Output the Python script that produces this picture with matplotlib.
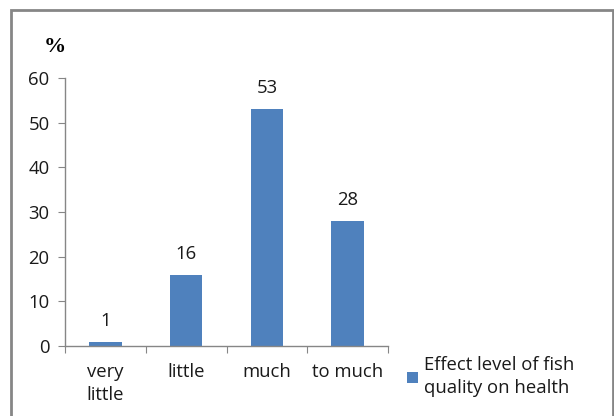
import matplotlib
matplotlib.use("Agg")
import matplotlib.pyplot as plt
from matplotlib.patches import Rectangle

categories = ["very\nlittle", "little", "much", "to much"]
values = [1, 16, 53, 28]
series_name = "Effect level of fish\nquality on health"
yticks = [0, 10, 20, 30, 40, 50, 60]

plt.rcParams['font.family'] = ['Open Sans', 'DejaVu Sans']
W, H = 614, 416
FS = 13.3
TXT = "#1a1a1a"
fig = plt.figure(figsize=(W / 100, H / 100), dpi=100)
ax = fig.add_axes([65 / W, 1 - 346 / H, (388 - 65) / W, (346 - 78) / H])

bar_color = "#4F81BD"
x = list(range(len(categories)))
bars = ax.bar(x, values, width=0.4, color=bar_color, label=series_name)
ax.set_xlim(-0.5, len(categories) - 0.5)
ax.set_ylim(0, 60)
ax.set_yticks(yticks)
ax.set_yticklabels([str(t) for t in yticks], fontsize=FS, color=TXT)

ax.set_xticks([i + 0.5 for i in range(-1, len(categories))], minor=False)
ax.set_xticklabels([])
ax.set_xticks(x, minor=True)
ax.set_xticklabels(categories, minor=True, fontsize=FS, color=TXT,
                   linespacing=1.35, va="top")
ax.tick_params(axis="x", which="minor", length=0, pad=12)
ax.tick_params(axis="x", which="major", length=5, color="#868686", direction="out")
ax.tick_params(axis="y", length=5, color="#868686", pad=6)

for s in ["top", "right"]:
    ax.spines[s].set_visible(False)
for s in ["left", "bottom"]:
    ax.spines[s].set_color("#868686")
    ax.spines[s].set_linewidth(1)

for xi, v in zip(x, values):
    ax.annotate(str(v), (xi, v), xytext=(0, 15), textcoords="offset points",
                ha="center", va="center", fontsize=FS, color=TXT)

fig.text(55 / W, 1 - 47 / H, "%", ha="center", va="center",
         fontsize=16, fontweight="bold", family="Liberation Serif")

leg = fig.legend(handles=[bars], labels=[series_name], loc="upper left",
                 bbox_to_anchor=(400 / W, 1 - 349 / H), frameon=False,
                 fontsize=FS, handlelength=0.55, handleheight=0.55,
                 handletextpad=0.35, borderaxespad=0, labelspacing=0,
                 labelcolor=TXT)
for t in leg.get_texts():
    t.set_linespacing(1.35)

fig.patches.append(Rectangle((11 / W, -0.2), (613 - 11) / W, 1 - 10 / H + 0.2,
                             transform=fig.transFigure, fill=False,
                             edgecolor="#868686", linewidth=2))

fig.savefig("out.png", dpi=100)
